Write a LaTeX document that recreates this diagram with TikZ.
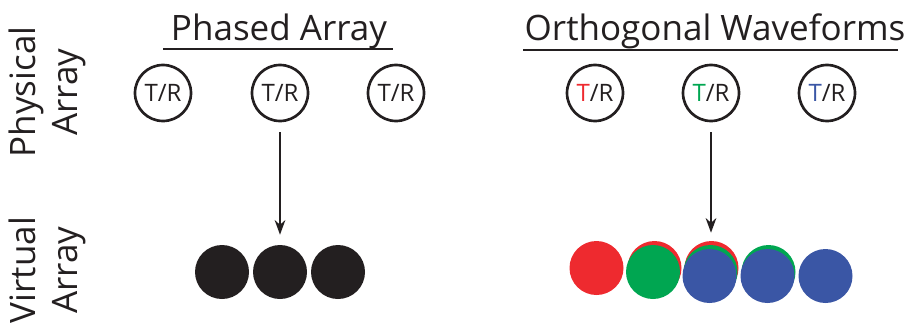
\documentclass[tikz,border=0pt]{standalone}
\usepackage{fontspec}
\setmainfont{Open Sans}
\usetikzlibrary{arrows.meta}

\definecolor{ink}{HTML}{231F20}
\definecolor{wfred}{HTML}{EE2A2F}
\definecolor{wfgreen}{HTML}{00A651}
\definecolor{wfblue}{HTML}{3A56A5}

\begin{document}
\begin{tikzpicture}[x=0.75pt,y=-0.75pt,
  every node/.style={text=ink},
  trx/.style={draw=ink, circle, line width=2pt, minimum size=42pt, inner sep=0pt,
    font=\fontsize{18}{18}\selectfont},
  vel/.style={circle, minimum size=40.5pt, inner sep=0pt},
  title/.style={font=\fontsize{26.25}{30}\selectfont, anchor=base},
  side/.style={font=\fontsize{26.25}{31.5}\selectfont, align=center, rotate=90},
  feed/.style={-{Stealth[length=11pt,width=8pt]}, line width=1.5pt, draw=ink}]

\useasboundingbox (0,0) rectangle (909,325);

% row labels
\node [side] (phys) at (47,92) {Physical\\Array};
\node [side] (virt) at (47,270) {Virtual\\Array};

% titles, underlined
\node [title] (pa) at (279,40) {Phased Array};
\node [title] (ow) at (715,40) {Orthogonal Waveforms};
\draw [line width=1.5pt, ink] (163,49) -- (393,49);
\draw [line width=1.5pt, ink] (523,50) -- (898,50);

% physical elements
\node [trx] (pa1) at (163,93) {T/R};
\node [trx] (pa2) at (280,93) {T/R};
\node [trx] (pa3) at (396,93) {T/R};

\node [trx] (ow1) at (595,93) {{\color{wfred}T}/R};
\node [trx] (ow2) at (711,93) {{\color{wfgreen}T}/R};
\node [trx] (ow3) at (827,93) {{\color{wfblue}T}/R};

% virtual elements
\foreach \i/\x in {1/222,2/280,3/338}
  \node [vel, fill=ink] (pv\i) at (\x,272) {};

\foreach \i/\x in {1/596.5,2/654.5,3/711.5}
  \node [vel, fill=wfred] (vr\i) at (\x,268) {};
\foreach \i/\x in {2/653,3/710.5,4/768.5}
  \node [vel, fill=wfgreen] (vg\i) at (\x,272) {};
\foreach \i/\x in {3/709.5,4/767.5,5/825.5}
  \node [vel, fill=wfblue] (vb\i) at (\x,276) {};

% arrows down to the virtual array
\draw [feed, shorten <=7.5pt, shorten >=7.5pt] (pa2) -- (pv2);
\draw [feed, shorten <=7.5pt, shorten >=6pt] (ow2) -- (ow2 |- vr3.north);

\end{tikzpicture}
\end{document}
